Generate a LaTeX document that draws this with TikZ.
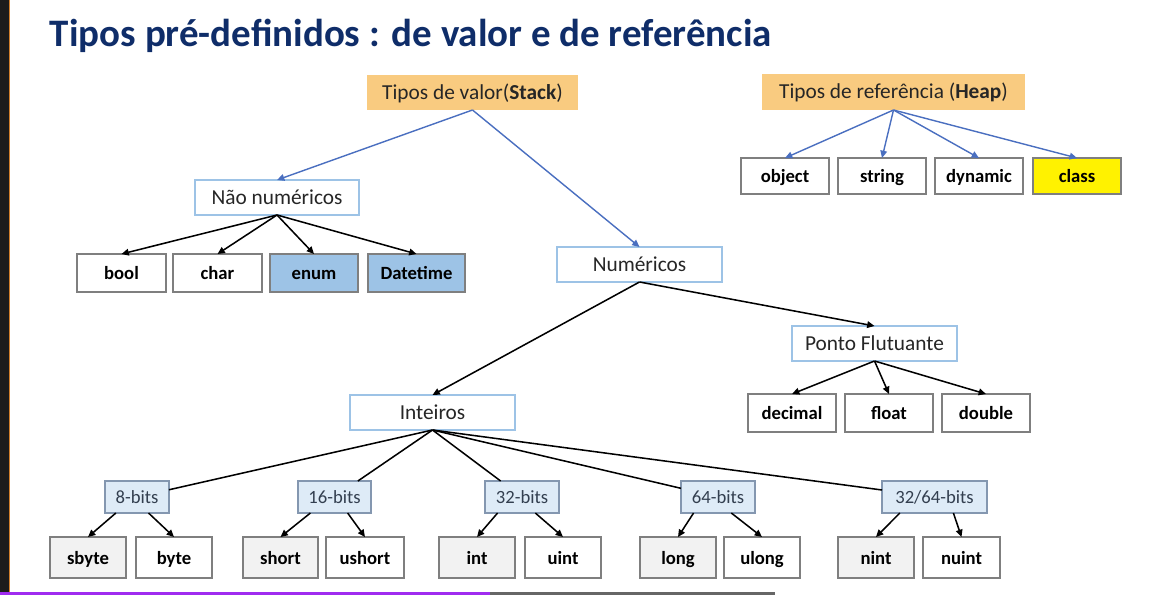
\documentclass[tikz,border=0pt]{standalone}
\usepackage{fontspec}
\setmainfont{Carlito}
\usetikzlibrary{arrows.meta,calc}

\definecolor{titleblue}{HTML}{0F2D69}
\definecolor{toporange}{HTML}{F9CB80}
\definecolor{catedge}{HTML}{9DC3E6}
\definecolor{leafedge}{HTML}{7F7F7F}
\definecolor{leafgrey}{HTML}{F2F2F2}
\definecolor{enumblue}{HTML}{9DC3E6}
\definecolor{bitsfill}{HTML}{DEEBF7}
\definecolor{bitsedge}{HTML}{8497B0}
\definecolor{linkblue}{HTML}{4A6FC0}
\definecolor{txtdark}{HTML}{262626}
\definecolor{bitstxt}{HTML}{333F50}
\definecolor{stripdark}{HTML}{1C1C1C}
\definecolor{barpurple}{HTML}{A02BF0}

% box from corner (x1,y1) to (x2,y2), in pixel units
\newcommand\pxbox[7]{%
  \node[#1, minimum width={(#5-#3)*0.75pt}, minimum height={(#6-#4)*0.75pt}]
    (#2) at ({(#3+#5)/2},{(#4+#6)/2}) {#7};}

\tikzset{
  every node/.style={inner sep=0pt, outer sep=0pt},
  evenline/.style={text height=1.18em, text depth=0.2em},
  topbox/.style={evenline, fill=toporange, font=\fontsize{16}{19}\selectfont, text=txtdark},
  catbox/.style={evenline, draw=catedge, line width=0.8pt, fill=white,
                 font=\fontsize{16}{19}\selectfont, text=txtdark},
  leafbox/.style={evenline, draw=leafedge, line width=0.8pt, fill=white,
                  font=\bfseries\fontsize{14}{17}\selectfont, text=black},
  leafgrey/.style={leafbox, fill=leafgrey},
  bitsbox/.style={evenline, draw=bitsedge, line width=0.8pt, fill=bitsfill,
                  font=\fontsize{14}{17}\selectfont, text=bitstxt},
  tip/.style={-{Triangle[length=5.5pt,width=5pt]}},
  blink/.style={tip, draw=linkblue, fill=linkblue, line width=1.05pt},
  klink/.style={tip, draw=black, line width=1.15pt},
  kline/.style={draw=black, line width=1.15pt},
}

\begin{document}
\begin{tikzpicture}[x=0.75pt, y=-0.75pt]
\useasboundingbox (0,0) rectangle (1172,595);
\fill[white] (0,0) rectangle (1172,595);

% screen frame
\fill[stripdark] (0,0) rectangle (9,595);
\fill[brown!70!orange] (9,0) rectangle (10.2,595);
\fill[barpurple] (0,591.5) rectangle (490,595);
\fill[black!60] (490,592) rectangle (775,595);

% title
\node[anchor=base west, font=\bfseries\fontsize{29.2}{33}\selectfont, text=titleblue]
  (title) at (50,47) {Tipos pré-definidos : de valor e de referência};

% heads
\pxbox{topbox}{valor}{367}{75}{578}{110}{Tipos de valor(\textbf{Stack})}
\pxbox{topbox}{ref}{762}{74}{1025}{110}{Tipos de referência (\textbf{Heap})}

% reference types
\pxbox{leafbox}{object}{741}{158}{829}{194}{object}
\pxbox{leafbox}{string}{838}{158}{926}{194}{string}
\pxbox{leafbox}{dynamic}{935}{158}{1023}{194}{dynamic}
\pxbox{leafbox, fill=yellow}{class}{1033}{158}{1121}{194}{class}

% value types
\pxbox{catbox}{nao}{195}{180}{359}{215}{Não numéricos}
\pxbox{leafbox}{bool}{77}{254}{166}{292}{bool}
\pxbox{leafbox}{char}{173}{254}{262}{292}{char}
\pxbox{leafbox, fill=enumblue}{enum}{270}{254}{358}{292}{enum}
\pxbox{leafbox, fill=enumblue}{datetime}{368}{254}{465}{292}{Datetime}

\pxbox{catbox}{num}{557}{247}{722}{282}{Numéricos}
\pxbox{catbox}{ponto}{792}{326}{957}{361}{Ponto Flutuante}
\pxbox{leafbox}{decimal}{748}{394}{836}{432}{decimal}
\pxbox{leafbox}{float}{845}{394}{933}{432}{float}
\pxbox{leafbox}{double}{942}{394}{1030}{432}{double}

\pxbox{catbox}{inteiros}{350}{395}{515}{430}{Inteiros}
\pxbox{bitsbox}{b8}{105}{481}{169}{513}{8-bits}
\pxbox{bitsbox}{b16}{298}{481}{371}{513}{16-bits}
\pxbox{bitsbox}{b32}{485}{481}{559}{513}{32-bits}
\pxbox{bitsbox}{b64}{681}{481}{755}{513}{64-bits}
\pxbox{bitsbox}{b3264}{882}{481}{987}{513}{32/64-bits}

\pxbox{leafgrey}{sbyte}{50}{537}{126}{578}{sbyte}
\pxbox{leafbox}{byte}{136}{537}{212}{578}{byte}
\pxbox{leafgrey}{short}{243}{537}{318}{578}{short}
\pxbox{leafbox}{ushort}{326}{537}{404}{578}{ushort}
\pxbox{leafgrey}{int}{439}{537}{515}{578}{int}
\pxbox{leafbox}{uint}{525}{537}{601}{578}{uint}
\pxbox{leafgrey}{long}{640}{537}{716}{578}{long}
\pxbox{leafbox}{ulong}{724}{537}{800}{578}{ulong}
\pxbox{leafgrey}{nint}{838}{537}{914}{578}{nint}
\pxbox{leafbox}{nuint}{923}{537}{1000}{578}{nuint}

% blue connectors
\foreach \t in {nao, num} \draw[blink] (valor.south) -- (\t.north);
\foreach \t in {object, string, dynamic, class} \draw[blink] (ref.south) -- (\t.north);

% black connectors
\foreach \t in {bool, char, enum, datetime} \draw[klink] (nao.south) -- (\t.north);
\foreach \t in {inteiros, ponto} \draw[klink] (num.south) -- (\t.north);
\foreach \t in {decimal, float, double} \draw[klink] (ponto.south) -- (\t.north);
\foreach \t in {b8, b16, b32, b64, b3264} \draw[kline] (inteiros.south) -- (\t);

\foreach \p/\l/\r in {b8/sbyte/byte, b16/short/ushort, b32/int/uint,
                      b64/long/ulong, b3264/nint/nuint} {
  \draw[klink] ($(\p.south west)!0.17!(\p.south east)$) -- (\l.north);
  \draw[klink] ($(\p.south west)!0.68!(\p.south east)$) -- (\r.north);
}
\end{tikzpicture}
\end{document}
